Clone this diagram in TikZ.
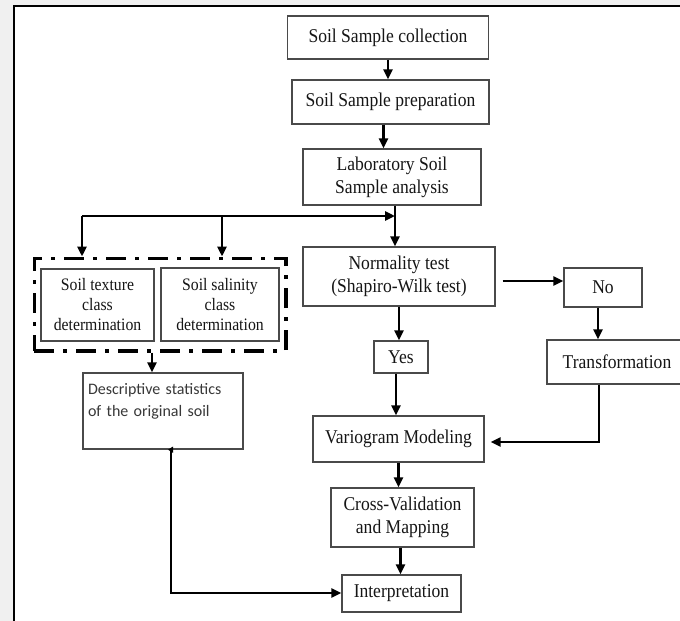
\documentclass[tikz,border=0pt]{standalone}
\usepackage{fontspec}
\setmainfont{Liberation Serif}[FakeStretch=0.9]
\newfontfamily\descfont{Carlito}
\usetikzlibrary{positioning,arrows.meta,fit}
\definecolor{ink}  {HTML}{151515}
\definecolor{edge} {HTML}{4A4A4A}
\definecolor{paper}{HTML}{F0F0F0}
\tikzset{
  every node/.style={font=\fontsize{19.5}{23}\selectfont, text=ink},
  % --- nodes
  box/.style   = {draw=edge, line width=1.4pt, fill=white, align=center, inner sep=2pt},
  small/.style = {box, font=\fontsize{17.5}{20}\selectfont},
  grp/.style   = {draw=black, line width=3.6pt, dash pattern=on 20pt off 9pt on 4pt off 9pt},
  % --- edges
  e/.style     = {-{Triangle[length=10pt,width=9pt]}, line width=2.8pt, draw=black},
}
\begin{document}
\begin{tikzpicture}[x=1pt,y=-1pt]
  \useasboundingbox (0,0) rectangle (680,621);
  \fill[paper] (0,0) rectangle (680,621);
  \fill[white] (14,6) rectangle (700,640);
  \draw[line width=2pt] (14,640) -- (14,6) -- (700,6);

  % main column
  \node[box, minimum width=201pt, minimum height=43pt] (coll)   at (388,37.5) {Soil Sample collection};
  \node[box, minimum width=197pt, minimum height=44pt] (prep)   at (390.5,102) {Soil Sample preparation};
  \node[box, minimum width=178pt, minimum height=56pt] (lab)    at (392,177) {Laboratory Soil\\Sample analysis};
  \node[box, minimum width=192pt, minimum height=59pt] (norm)   at (399,276.5) {Normality test\\(Shapiro-Wilk test)};
  \node[box, minimum width=78pt,  minimum height=39pt] (no)     at (603,287.5) {No};
  \node[box, minimum width=54pt,  minimum height=32pt] (yes)    at (401,357) {Yes};
  \node[box, minimum width=140pt, minimum height=44pt] (trans)  at (617,362) {Transformation};
  \node[box, minimum width=171pt, minimum height=46pt] (vario)  at (398.5,439) {Variogram Modeling};
  \node[box, minimum width=143pt, minimum height=59pt] (cross)  at (402.5,517.5) {Cross-Validation\\and Mapping};
  \node[box, minimum width=119pt, minimum height=37pt] (interp) at (401.5,593.5) {Interpretation};

  % left branch
  \node[small, minimum width=113pt, minimum height=72pt] (texture) at (97.5,305) {Soil texture\\class\\determination};
  \node[small, minimum width=118pt, minimum height=73pt] (salin)   at (220,304.5) {Soil salinity\\class\\determination};
  \node[grp, fit=(texture)(salin), inner xsep=6pt, inner ysep=9pt] (group) {};
  \node[box, minimum width=160pt, minimum height=76pt, text width=150pt, align=left,
        font=\descfont\fontsize{16}{22}\selectfont, text=ink!85] (desc) at (163,411)
        {Descriptive statistics\\of the original soil\\\mbox{}};

  \coordinate (jn) at (395,216);
  \coordinate (jl) at (82,216);
  \coordinate (jm) at (222,216);
  \coordinate (tv) at (599,442);
  \coordinate (di) at (171,593);

  \draw[e] (coll.south) -- (coll.south |- prep.north);
  \draw[e] ([xshift=-7pt]prep.south) -- ([xshift=-7pt]prep.south |- lab.north);
  \draw[e] (jn |- lab.south) -- (jn |- norm.north);
  \draw[e] (jl) -- (jn);
  \draw[e] (jl) -- (jl |- group.north);
  \draw[e] (jm) -- (jm |- group.north);
  \draw[e] ([xshift=-8pt]group.south) -- ([xshift=-8pt]group.south |- desc.north);
  \draw[e] ([xshift=7pt]norm.east |- 0,281) -- (no.west |- 0,281);
  \draw[e] ([xshift=-5pt]no.south) -- ([xshift=-5pt]no.south |- trans.north);
  \draw[e] (norm.south) -- (norm.south |- yes.north);
  \draw[e] ([xshift=-5pt]yes.south) -- ([xshift=-5pt]yes.south |- vario.north);
  \draw[e] (tv |- trans.south) -- (tv) -- ([xshift=6pt]vario.east |- tv);
  \draw[e] (vario.south) -- (vario.south |- cross.north);
  \draw[e] ([xshift=-2pt]cross.south) -- ([xshift=-2pt]cross.south |- interp.north);
  \draw[e, {Triangle[length=5pt,width=6pt]}-{Triangle[length=10pt,width=9pt]}]
    ([xshift=-3pt]di |- desc.south) -- (di |- desc.south) -- (di) -- (interp.west |- di);
\end{tikzpicture}
\end{document}
